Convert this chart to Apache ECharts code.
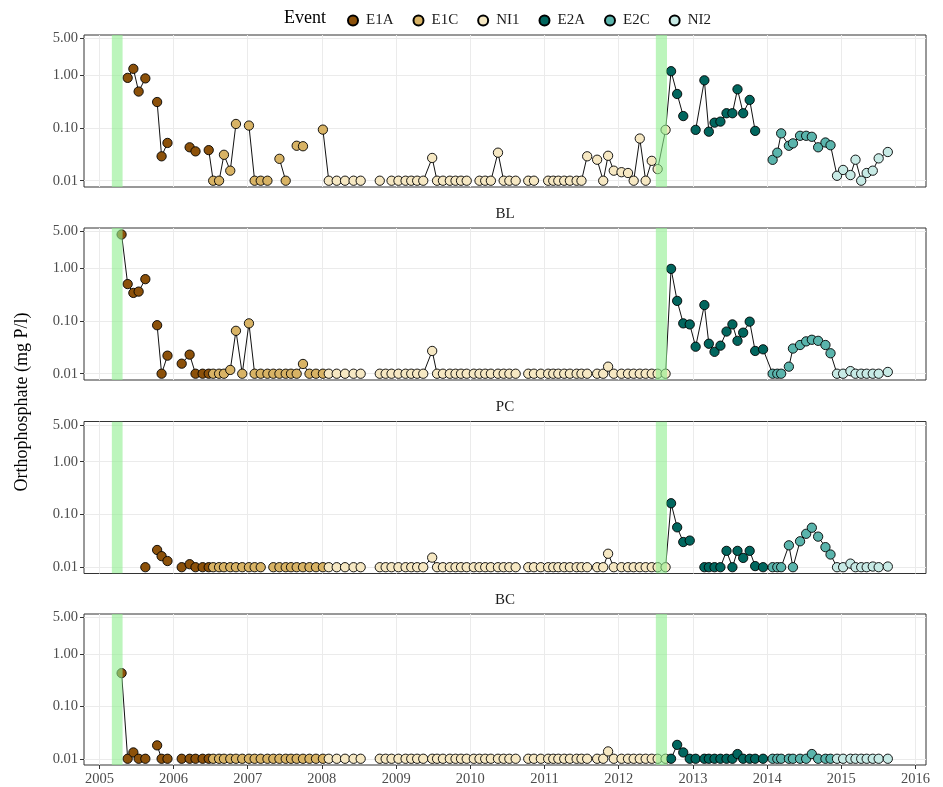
<!DOCTYPE html>
<html>
<head>
<meta charset="utf-8">
<script src="https://cdn.jsdelivr.net/npm/echarts@6/dist/echarts.min.js"></script>
<style>
  html, body { margin: 0; padding: 0; background: #ffffff; }
  #chart { width: 943px; height: 787px; }
</style>
</head>
<body>
<div id="chart"></div>
<script>
// Sampling dates shared by all four sites
const sampleDates = [
  // E1A
  '2005-04-20','2005-05-20','2005-06-17','2005-07-13','2005-08-15','2005-10-12','2005-11-03','2005-12-02',
  '2006-02-10','2006-03-21','2006-04-19','2006-05-24','2006-06-23',
  // E1C
  '2006-07-15','2006-08-13','2006-09-06','2006-10-07','2006-11-04','2006-12-05',
  '2007-01-07','2007-02-04','2007-03-06','2007-04-08','2007-05-07','2007-06-06','2007-07-07','2007-08-02',
  '2007-08-30','2007-09-30','2007-11-01','2007-12-03','2008-01-06',
  // NI1
  '2008-02-04','2008-03-14','2008-04-24','2008-06-05','2008-07-10',
  '2008-10-12','2008-11-10','2008-12-09',
  '2009-01-12','2009-02-16','2009-03-16','2009-04-14','2009-05-14','2009-06-27','2009-07-21','2009-08-19',
  '2009-09-22','2009-10-20','2009-11-16','2009-12-14',
  '2010-01-18','2010-02-15','2010-03-15','2010-04-12','2010-05-17','2010-06-14','2010-07-12','2010-08-12',
  '2010-10-13','2010-11-10','2010-12-14',
  '2011-01-19','2011-02-13','2011-03-10','2011-04-08','2011-05-06','2011-06-08','2011-07-02','2011-07-30',
  '2011-09-17','2011-10-17','2011-11-10','2011-12-08',
  '2012-01-15','2012-02-16','2012-03-15','2012-04-14','2012-05-13','2012-06-12','2012-07-11','2012-08-19',
  // E2A
  '2012-09-15','2012-10-15','2012-11-14','2012-12-16',
  '2013-01-14','2013-02-26','2013-03-20','2013-04-17','2013-05-16','2013-06-15','2013-07-14','2013-08-08',
  '2013-09-05','2013-10-07','2013-11-03','2013-12-12',
  // E2C
  '2014-01-28','2014-02-20','2014-03-11','2014-04-18','2014-05-08','2014-06-12','2014-07-12','2014-08-09',
  '2014-09-09','2014-10-15','2014-11-09',
  // NI2
  '2014-12-11','2015-01-10','2015-02-15','2015-03-12','2015-04-09','2015-05-06','2015-06-05','2015-07-04','2015-08-18'
];

// Event periods (start dates) and colours
const eventNames  = ['E1A', 'E1C', 'NI1', 'E2A', 'E2C', 'NI2'];
const eventStarts = ['2005-01-01', '2006-07-01', '2008-01-20', '2012-09-01', '2014-01-15', '2014-11-25'];
const eventColors = ['#8c510a', '#d8b365', '#f6e8c3', '#01665e', '#5ab4ac', '#c7eae5'];

// Disturbance windows (shaded)
const disturbances = [['2005-03-03', '2005-04-25'], ['2012-07-02', '2012-08-26']];

// Orthophosphate (mg P/l) per site, aligned with sampleDates; null = not sampled
const siteTop = [
  null, 0.89, 1.32, 0.49, 0.87, 0.31, 0.029, 0.052, null, 0.043, 0.036, null, 0.038,
  0.01, 0.01, 0.031, 0.0155, 0.119, null, 0.111, 0.01, 0.01, 0.01, null, 0.026, 0.01, null, 0.046, 0.045, null, null, 0.093,
  0.01, 0.01, 0.01, 0.01, 0.01,
  0.01, null, 0.01, 0.01, 0.01, 0.01, 0.01, 0.01, 0.027, 0.01, 0.01, 0.01, 0.01, 0.01, 0.01, null, 0.01, 0.01, 0.01, 0.034, 0.01, 0.01, 0.01,
  0.01, 0.01, null, 0.01, 0.01, 0.01, 0.01, 0.01, 0.01, 0.01, 0.029, 0.025, 0.01, 0.0297, 0.0155, 0.0145, 0.014, 0.01, 0.063, 0.01, 0.0238, 0.0166, 0.092,
  1.19, 0.44, 0.168, null, 0.092, 0.80, 0.085, 0.126, 0.132, 0.19, 0.19, 0.54, 0.19, 0.34, 0.088, null,
  0.0249, 0.034, 0.079, 0.046, 0.051, 0.071, 0.071, 0.068, 0.043, 0.053, 0.047,
  0.0124, 0.016, 0.0128, 0.025, 0.01, 0.014, 0.0155, 0.0265, 0.035
];
const siteBL = [
  4.35, 0.50, 0.34, 0.36, 0.62, 0.083, 0.01, 0.022, 0.0155, 0.023, 0.01, 0.01, 0.01,
  0.01, 0.01, 0.01, 0.0118, 0.065, 0.01, 0.09, 0.01, 0.01, 0.01, 0.01, 0.01, 0.01, 0.01, 0.01, 0.0153, 0.01, 0.01, 0.01,
  0.01, 0.01, 0.01, 0.01, 0.01,
  0.01, 0.01, 0.01, 0.01, 0.01, 0.01, 0.01, 0.01, 0.027, 0.01, 0.01, 0.01, 0.01, 0.01, 0.01, 0.01, 0.01, 0.01, 0.01, 0.01, 0.01, 0.01, 0.01,
  0.01, 0.01, 0.01, 0.01, 0.01, 0.01, 0.01, 0.01, 0.01, 0.01, 0.01, 0.01, 0.01, 0.0136, 0.01, 0.01, 0.01, 0.01, 0.01, 0.01, 0.01, 0.01, 0.01,
  0.97, 0.24, 0.090, 0.086, 0.0325, 0.20, 0.037, 0.026, 0.034, 0.063, 0.086, 0.042, 0.060, 0.097, 0.027, 0.029,
  0.01, 0.01, 0.01, 0.0136, 0.030, 0.035, 0.041, 0.044, 0.042, 0.035, 0.0244,
  0.01, 0.01, 0.0112, 0.01, 0.01, 0.01, 0.01, 0.01, 0.0108
];
const sitePC = [
  null, null, null, null, 0.01, 0.0212, 0.0162, 0.0131, 0.01, 0.0114, 0.01, 0.01, 0.01,
  0.01, 0.01, 0.01, 0.01, 0.01, 0.01, 0.01, 0.01, 0.01, null, 0.01, 0.01, 0.01, 0.01, 0.01, 0.01, 0.01, 0.01, 0.01,
  0.01, 0.01, 0.01, 0.01, 0.01,
  0.01, 0.01, 0.01, 0.01, 0.01, 0.01, 0.01, 0.01, 0.0152, 0.01, 0.01, 0.01, 0.01, 0.01, 0.01, 0.01, 0.01, 0.01, 0.01, 0.01, 0.01, 0.01, 0.01,
  0.01, 0.01, 0.01, 0.01, 0.01, 0.01, 0.01, 0.01, 0.01, 0.01, 0.01, 0.01, 0.01, 0.018, 0.01, 0.01, 0.01, 0.01, 0.01, 0.01, 0.01, 0.01, 0.01,
  0.163, 0.057, 0.030, 0.032, null, 0.01, 0.01, 0.01, 0.01, 0.0204, 0.01, 0.0204, 0.015, 0.0204, 0.0105, 0.01,
  0.01, 0.01, 0.01, 0.026, 0.01, 0.031, 0.043, 0.056, 0.038, 0.024, 0.0174,
  0.01, 0.01, 0.0117, 0.01, 0.01, 0.01, 0.0103, 0.01, 0.0103
];
const siteBC = [
  0.43, 0.01, 0.0132, 0.01, 0.01, 0.018, 0.01, 0.01, 0.01, 0.01, 0.01, 0.01, 0.01,
  0.01, 0.01, 0.01, 0.01, 0.01, 0.01, 0.01, 0.01, 0.01, 0.01, 0.01, 0.01, 0.01, 0.01, 0.01, 0.01, 0.01, 0.01, 0.01,
  0.01, 0.01, 0.01, 0.01, 0.01,
  0.01, 0.01, 0.01, 0.01, 0.01, 0.01, 0.01, 0.01, 0.01, 0.01, 0.01, 0.01, 0.01, 0.01, 0.01, 0.01, 0.01, 0.01, 0.01, 0.01, 0.01, 0.01, 0.01,
  0.01, 0.01, 0.01, 0.01, 0.01, 0.01, 0.01, 0.01, 0.01, 0.01, 0.01, 0.01, 0.01, 0.0138, 0.01, 0.01, 0.01, 0.01, 0.01, 0.01, 0.01, 0.01, 0.01,
  0.01, 0.0184, 0.0132, 0.01, 0.01, 0.01, 0.01, 0.01, 0.01, 0.01, 0.01, 0.0123, 0.01, 0.01, 0.01, 0.01,
  0.01, 0.01, 0.01, 0.01, 0.01, 0.01, 0.01, 0.0123, 0.01, 0.01, 0.01,
  0.01, 0.01, 0.01, 0.01, 0.01, 0.01, 0.01, 0.01, 0.01
];

const siteLabels = ['', 'BL', 'PC', 'BC'];
const siteValues = [siteTop, siteBL, sitePC, siteBC];

// Axis ticks
const yearTicks = [2005, 2006, 2007, 2008, 2009, 2010, 2011, 2012, 2013, 2014, 2015, 2016];
const yTicks = [0.01, 0.1, 1, 5];

// ---- layout & style ----
const FONT = '"Liberation Serif", "Times New Roman", serif';
const X_MIN = '2004-10-17', X_MAX = '2016-02-22';
const Y_MIN = 0.0076, Y_MAX = 5.78;
const GAP_DAYS = 48;          // a longer interval between samples breaks the line
const gridTops = [35, 228, 421.5, 614];
const GRID_H = 152;

function toTime(s) {
  const p = s.split('-').map(Number);
  return new Date(p[0], p[1] - 1, p[2]).getTime();
}
const times = sampleDates.map(toTime);
const eventStartTimes = eventStarts.map(toTime);
function eventIndex(t) {
  let k = 0;
  for (let i = 0; i < eventStartTimes.length; i++) if (t >= eventStartTimes[i]) k = i;
  return k;
}
const yearTimes = yearTicks.map(y => new Date(y, 0, 1).getTime());

const grids = [], xAxes = [], yAxes = [], series = [], graphics = [];

siteValues.forEach((vals, s) => {
  const last = s === siteValues.length - 1;
  grids.push({
    left: 84, right: 17, top: gridTops[s], height: GRID_H,
    show: true, borderColor: '#333333', borderWidth: 1, backgroundColor: '#ffffff'
  });
  // time in ms on a linear axis, ticked at each new year
  xAxes.push({
    type: 'value', gridIndex: s, min: toTime(X_MIN), max: toTime(X_MAX), scale: true,
    axisLine: { show: false },
    axisTick: { show: last, length: 4, lineStyle: { color: '#333333' }, customValues: yearTimes },
    axisLabel: {
      show: last, customValues: yearTimes, margin: 7,
      formatter: v => String(new Date(v).getFullYear()),
      color: '#4d4d4d', fontFamily: FONT, fontSize: 14.5
    },
    splitLine: { show: true, lineStyle: { color: '#ebebeb', width: 1 } }
  });
  yAxes.push({
    type: 'log', logBase: 10, gridIndex: s, min: Y_MIN, max: Y_MAX,
    axisLine: { show: false },
    axisTick: { show: true, length: 4, lineStyle: { color: '#333333' }, customValues: yTicks },
    axisLabel: {
      customValues: yTicks, margin: 6,
      formatter: v => Number(v).toFixed(2),
      color: '#4d4d4d', fontFamily: FONT, fontSize: 14.5
    },
    splitLine: { show: true, lineStyle: { color: '#ebebeb', width: 1 } },
    minorSplitLine: { show: false }
  });

  // connecting line, broken where a sample is missing
  const lineData = [];
  let prev = null;
  vals.forEach((v, i) => {
    const t = times[i];
    if (prev !== null && t - prev > GAP_DAYS * 864e5) lineData.push([t, null]);
    lineData.push([t, v]);
    prev = t;
  });
  series.push({
    type: 'line', name: 'trace', xAxisIndex: s, yAxisIndex: s,
    data: lineData, showSymbol: false, connectNulls: false, silent: true,
    lineStyle: { color: '#111111', width: 1 }, z: 2, animation: false
  });

  // points coloured by event
  eventNames.forEach((ev, e) => {
    const pts = [];
    vals.forEach((v, i) => {
      if (v !== null && eventIndex(times[i]) === e) pts.push([times[i], v]);
    });
    series.push({
      type: 'scatter', name: ev, xAxisIndex: s, yAxisIndex: s, data: pts,
      symbol: 'circle', symbolSize: 9.3,
      itemStyle: { color: eventColors[e], borderColor: '#000000', borderWidth: 0.9, opacity: 1 },
      z: 3, animation: false
    });
  });

  // shaded disturbance windows, drawn over the points
  series.push({
    type: 'custom', name: 'window', xAxisIndex: s, yAxisIndex: s, z: 10, silent: true, clip: true,
    data: disturbances.map(d => [toTime(d[0]), toTime(d[1])]),
    encode: { x: [0, 1] },
    renderItem: (params, api) => {
      const a = api.coord([api.value(0), Y_MAX]);
      const b = api.coord([api.value(1), Y_MIN]);
      return {
        type: 'rect',
        shape: { x: a[0], y: a[1], width: b[0] - a[0], height: b[1] - a[1] },
        style: { fill: 'rgba(144,238,144,0.6)' }
      };
    },
    animation: false
  });

  if (siteLabels[s]) {
    graphics.push({
      type: 'text', x: 505, y: gridTops[s] - 14,
      style: { text: siteLabels[s], font: '15px ' + FONT, fill: '#1a1a1a', align: 'center', verticalAlign: 'middle' }
    });
  }
});

graphics.push({
  type: 'text', x: 22, y: 402, rotation: Math.PI / 2,
  style: { text: 'Orthophosphate (mg P/l)', font: '18px ' + FONT, fill: '#000000', align: 'center', verticalAlign: 'middle' }
});
graphics.push({
  type: 'text', x: 284, y: 18,
  style: { text: 'Event', font: '18px ' + FONT, fill: '#000000', align: 'left', verticalAlign: 'middle' }
});

const chart = echarts.init(document.getElementById('chart'), null, { renderer: 'canvas' });
chart.setOption({
  animation: false,
  backgroundColor: '#ffffff',
  legend: {
    data: eventNames, left: 347, top: 13, padding: 0,
    itemWidth: 16, itemHeight: 10, itemGap: 19, icon: 'circle',
    textStyle: { fontFamily: FONT, fontSize: 15, color: '#1a1a1a' }
  },
  grid: grids,
  xAxis: xAxes,
  yAxis: yAxes,
  series: series,
  graphic: graphics
});
</script>
</body>
</html>
